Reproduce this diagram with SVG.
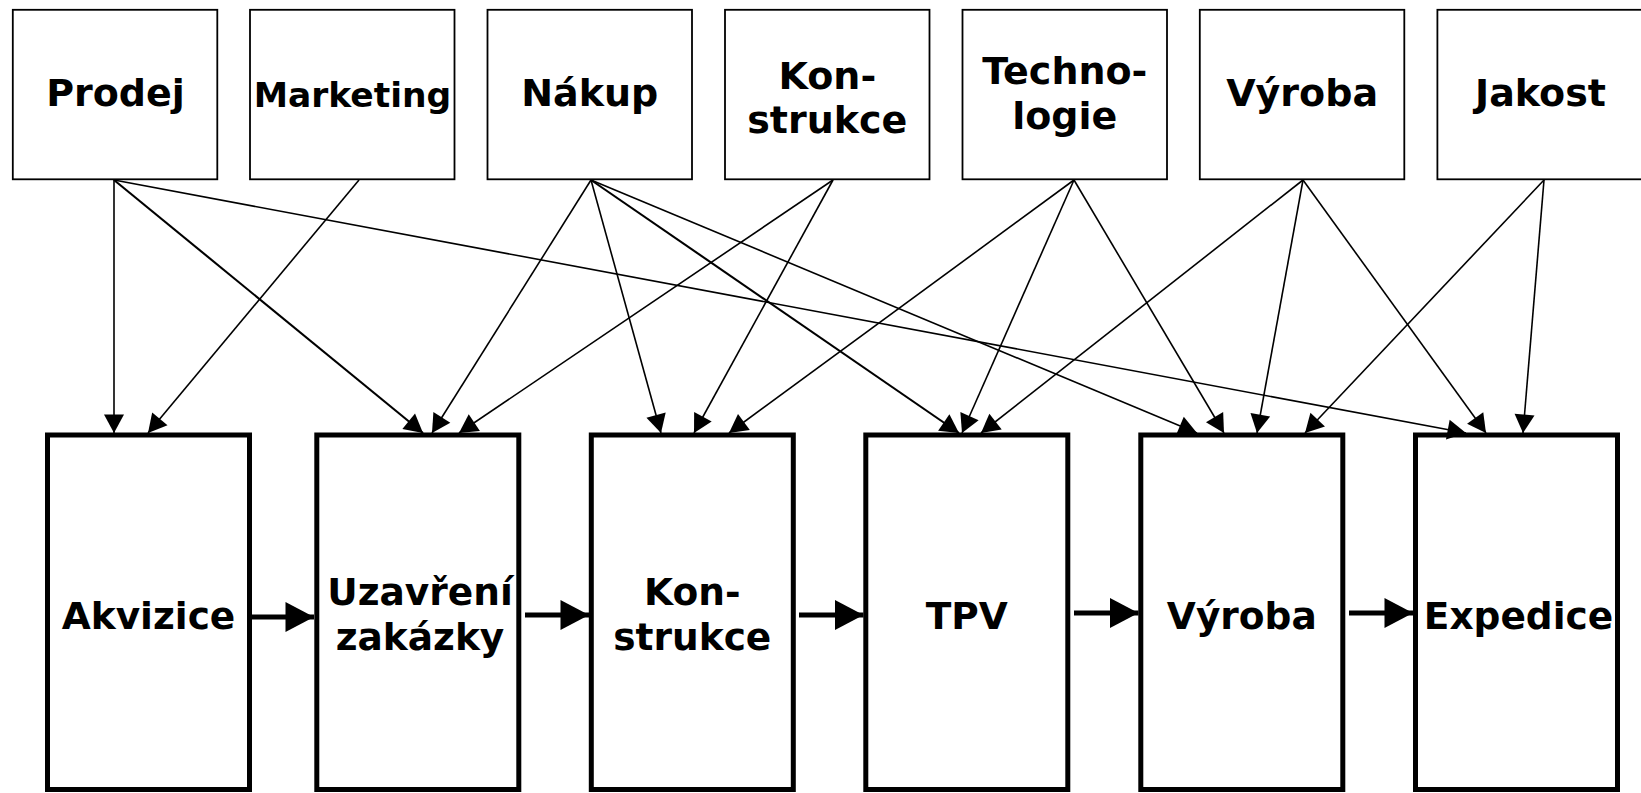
<svg xmlns="http://www.w3.org/2000/svg" width="1641" height="793" viewBox="0 0 1641 793">
<style>
.top rect{fill:#fff;stroke:#000;stroke-width:1.8}
.bot rect{fill:#fff;stroke:#000;stroke-width:5}
text{font-family:"DejaVu Sans","Verdana",sans-serif;font-weight:bold;text-anchor:middle;fill:#000}
.top text{font-size:38px}
.bot text{font-size:37.5px}
.thin line{stroke:#000;stroke-width:1.6;fill:none;marker-end:url(#ah)}
.thin line.b{stroke-width:2.1}
.thick line{stroke:#000;stroke-width:5;fill:none;marker-end:url(#ahb)}
</style>
<defs>
<marker id="ah" markerUnits="userSpaceOnUse" markerWidth="19" markerHeight="20" refX="18.5" refY="10" orient="auto" overflow="visible">
<path d="M0,0 L18.5,10 L0,20 z" fill="#000"/>
</marker>
<marker id="ahb" markerUnits="userSpaceOnUse" markerWidth="29" markerHeight="30" refX="28.5" refY="15" orient="auto" overflow="visible">
<path d="M0,0 L28.5,15 L0,30 z" fill="#000"/>
</marker>
</defs>
<rect width="1641" height="793" fill="#fff"/>

<g class="top">
<g id="prodej"><rect x="12.8" y="9.8" width="204.5" height="169.5"/><text x="115.5" y="106">Prodej</text></g>
<g id="marketing"><rect x="250" y="9.8" width="204.5" height="169.5"/><text x="352.5" y="106.5" style="font-size:34.5px">Marketing</text></g>
<g id="nakup"><rect x="487.5" y="9.8" width="204.5" height="169.5"/><text x="589.8" y="106">Nákup</text></g>
<g id="konstrukce-top"><rect x="725" y="9.8" width="204.5" height="169.5"/><text x="827.3" y="89">Kon-</text><text x="827.3" y="133">strukce</text></g>
<g id="technologie"><rect x="962.5" y="9.8" width="204.5" height="169.5"/><text x="1064.8" y="84">Techno-</text><text x="1064.8" y="129">logie</text></g>
<g id="vyroba-top"><rect x="1199.8" y="9.8" width="204.5" height="169.5"/><text x="1302.1" y="106">Výroba</text></g>
<g id="jakost"><rect x="1437.4" y="9.8" width="204.5" height="169.5"/><text x="1540.5" y="106">Jakost</text></g>
</g>

<g class="bot">
<g id="akvizice"><rect x="47.5" y="435" width="202" height="354.5"/><text x="148.5" y="629">Akvizice</text></g>
<g id="uzavreni"><rect x="316.8" y="435" width="202" height="354.5"/><text x="420" y="605">Uzavření</text><text x="420" y="650">zakázky</text></g>
<g id="konstrukce"><rect x="591.3" y="435" width="202" height="354.5"/><text x="692.3" y="605">Kon-</text><text x="692.3" y="650">strukce</text></g>
<g id="tpv"><rect x="865.8" y="435" width="202" height="354.5"/><text x="966.8" y="629">TPV</text></g>
<g id="vyroba"><rect x="1140.8" y="435" width="202" height="354.5"/><text x="1241.8" y="629">Výroba</text></g>
<g id="expedice"><rect x="1415.5" y="435" width="202" height="354.5"/><text x="1518.5" y="629">Expedice</text></g>
</g>

<g id="connectors">
<g class="thin">
<line x1="114" y1="180" x2="114" y2="433"/>
<line class="b" x1="114" y1="180" x2="423" y2="433"/>
<line x1="114" y1="180" x2="1466" y2="433"/>
<line x1="359" y1="180" x2="148" y2="433"/>
<line x1="591" y1="180" x2="432" y2="433"/>
<line x1="591" y1="180" x2="661" y2="433"/>
<line class="b" x1="591" y1="180" x2="959" y2="433"/>
<line x1="591" y1="180" x2="1197" y2="433"/>
<line x1="833" y1="180" x2="459" y2="433"/>
<line x1="833" y1="180" x2="694" y2="433"/>
<line x1="1074" y1="180" x2="729" y2="433"/>
<line x1="1074" y1="180" x2="962" y2="433"/>
<line x1="1074" y1="180" x2="1224" y2="433"/>
<line x1="1303" y1="180" x2="981" y2="433"/>
<line x1="1303" y1="180" x2="1257" y2="433"/>
<line x1="1303" y1="180" x2="1486" y2="433"/>
<line x1="1544" y1="180" x2="1305" y2="433"/>
<line x1="1544" y1="180" x2="1523" y2="433"/>
</g>
<g class="thick">
<line x1="251.5" y1="617" x2="314" y2="617"/>
<line x1="525" y1="615" x2="589" y2="615"/>
<line x1="799" y1="615" x2="863.5" y2="615"/>
<line x1="1074" y1="613" x2="1138.5" y2="613"/>
<line x1="1349" y1="613" x2="1413" y2="613"/>
</g>
</g>
</svg>
